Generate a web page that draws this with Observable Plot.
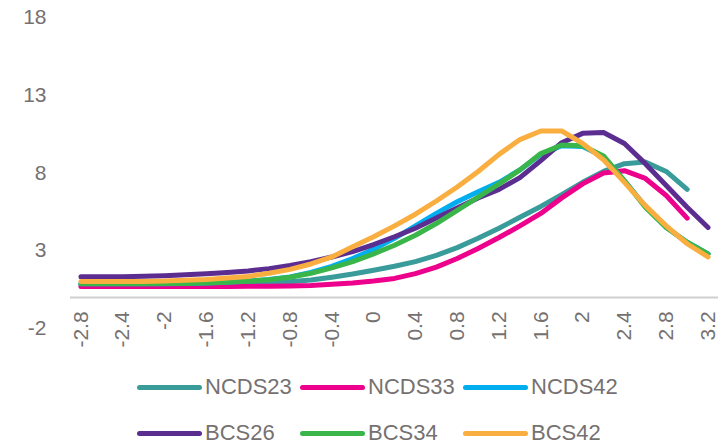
<!DOCTYPE html>
<html>
<head>
<meta charset="utf-8">
<script src="https://cdn.jsdelivr.net/npm/d3@7"></script>
<script src="https://cdn.jsdelivr.net/npm/@observablehq/plot@0.6"></script>
<style>
  html, body { margin: 0; padding: 0; background: #fff; }
  #wrap { position: relative; width: 728px; height: 445px; font-family: "Liberation Sans", Arial, sans-serif; color: #767171; }
  #legend { position: absolute; left: 137px; top: 364px; }
  .row { display: flex; height: 46px; align-items: center; }
  .item { display: flex; align-items: center; width: 163px; }
  .sw { width: 65px; height: 5px; border-radius: 3px; margin-right: 3px; }
  .lab { font-size: 22px; line-height: 22px; }
</style>
</head>
<body>
<div id="wrap">
  <div id="chart"></div>
  <div id="legend"></div>
</div>
<script>
const xs = [-2.8,-2.6,-2.4,-2.2,-2.0,-1.8,-1.6,-1.4,-1.2,-1.0,-0.8,-0.6,-0.4,-0.2,0,0.2,0.4,0.6,0.8,1.0,1.2,1.4,1.6,1.8,2.0,2.2,2.4,2.6,2.8,3.0,3.2];

const NCDS23 = [0.82,0.82,0.82,0.82,0.82,0.83,0.84,0.86,0.88,0.92,1.0,1.12,1.3,1.5,1.75,2.0,2.3,2.7,3.2,3.8,4.45,5.15,5.85,6.6,7.4,8.1,8.6,8.7,8.1,6.95];
const NCDS33 = [0.7,0.7,0.7,0.7,0.7,0.7,0.7,0.7,0.71,0.72,0.74,0.77,0.84,0.92,1.05,1.22,1.53,1.95,2.5,3.15,3.85,4.6,5.4,6.4,7.3,8.0,8.15,7.65,6.55,5.1];
const NCDS42 = [0.88,0.88,0.88,0.88,0.88,0.9,0.93,0.98,1.05,1.15,1.32,1.6,2.0,2.5,3.1,3.8,4.6,5.4,6.15,6.8,7.4,8.2,9.2,9.75,9.7,9.05,7.5,5.85,4.5,3.55,2.8];
const BCS26 = [1.33,1.33,1.33,1.36,1.4,1.45,1.52,1.6,1.7,1.85,2.05,2.3,2.6,2.95,3.4,3.9,4.45,5.1,5.75,6.4,6.95,7.7,8.8,9.95,10.55,10.6,9.9,8.6,7.2,5.8,4.5];
const BCS34 = [0.88,0.88,0.88,0.88,0.89,0.9,0.93,0.98,1.04,1.14,1.3,1.55,1.9,2.3,2.8,3.35,4.0,4.75,5.6,6.45,7.3,8.2,9.25,9.8,9.75,9.1,7.5,5.8,4.5,3.55,2.8];
const BCS42 = [1.03,1.03,1.03,1.03,1.05,1.1,1.15,1.24,1.35,1.55,1.8,2.15,2.6,3.25,3.9,4.6,5.35,6.2,7.1,8.1,9.2,10.15,10.7,10.7,9.9,8.85,7.4,5.9,4.6,3.45,2.6];

const seriesNames = ["NCDS23","NCDS33","NCDS42","BCS26","BCS34","BCS42"];
const seriesValues = [NCDS23, NCDS33, NCDS42, BCS26, BCS34, BCS42];
const seriesColors = ["#3A9C9A","#EC008C","#00AEEF","#5C2D91","#39B54A","#F9AE3F"];

const xTicks = [-2.8,-2.4,-2,-1.6,-1.2,-0.8,-0.4,0,0.4,0.8,1.2,1.6,2,2.4,2.8,3.2];
const yTicks = [-2,3,8,13,18];

const data = seriesNames.flatMap((name, i) =>
  seriesValues[i].map((v, j) => ({series: name, x: xs[j], y: v}))
);

const chart = Plot.plot({
  width: 728,
  height: 360,
  marginLeft: 70,
  marginRight: 10,
  marginTop: 17,
  marginBottom: 32,
  style: {fontFamily: "Liberation Sans, Arial, sans-serif", fontSize: "21px", color: "#767171", background: "white"},
  x: {domain: [-2.9, 3.3], axis: null},
  y: {domain: [-2, 18], axis: null},
  color: {domain: seriesNames, range: seriesColors},
  marks: [
    Plot.axisY({ticks: yTicks, tickSize: 0, tickPadding: 24, tickFormat: d => String(d), fontSize: 21, label: null}),
    Plot.ruleY([0], {stroke: "#d0d0d0", strokeWidth: 2}),
    Plot.text(xTicks, {x: d => d, y: d => 0, text: d => String(d), rotate: -90, textAnchor: "end", dy: 14, fontSize: 21, fill: "#767171"}),
    Plot.line(data, {x: "x", y: "y", z: "series", stroke: "series", strokeWidth: 5, strokeLinecap: "round", strokeLinejoin: "round"})
  ]
});
document.getElementById("chart").appendChild(chart);

const legend = document.getElementById("legend");
[[0,1,2],[3,4,5]].forEach(rowIdx => {
  const row = document.createElement("div");
  row.className = "row";
  rowIdx.forEach(i => {
    const item = document.createElement("div");
    item.className = "item";
    const sw = document.createElement("div");
    sw.className = "sw";
    sw.style.background = seriesColors[i];
    const lab = document.createElement("span");
    lab.className = "lab";
    lab.textContent = seriesNames[i];
    item.appendChild(sw);
    item.appendChild(lab);
    row.appendChild(item);
  });
  legend.appendChild(row);
});
</script>
</body>
</html>
